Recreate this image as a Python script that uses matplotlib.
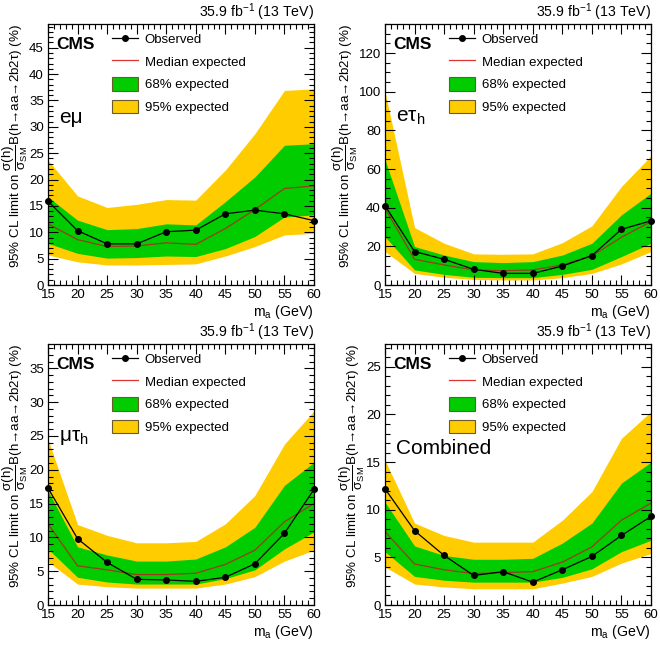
import numpy as np
import matplotlib
matplotlib.use('Agg')
import matplotlib.pyplot as plt
from matplotlib.lines import Line2D
from matplotlib.patches import Patch
from matplotlib.ticker import MultipleLocator

plt.rcParams['font.family'] = ['Liberation Sans', 'DejaVu Sans']
plt.rcParams['mathtext.fontset'] = 'custom'
plt.rcParams['mathtext.rm'] = 'Liberation Sans'
plt.rcParams['mathtext.it'] = 'Liberation Sans:italic'
plt.rcParams['mathtext.bf'] = 'Liberation Sans:bold'

# masses (GeV)
ma = [15, 20, 25, 30, 35, 40, 45, 50, 55, 60]

# e-mu channel
emu_obs = [15.9, 10.3, 7.8, 7.8, 10.1, 10.4, 13.5, 14.2, 13.5, 12.2]
emu_med = [11.6, 8.6, 7.3, 7.4, 8.0, 7.7, 10.7, 14.3, 18.3, 18.8]
emu_lo68 = [7.9, 6.0, 5.1, 5.2, 5.5, 5.4, 6.9, 9.2, 12.9, 13.3]
emu_hi68 = [16.7, 12.3, 10.5, 10.7, 11.6, 11.4, 15.8, 20.5, 26.5, 26.8]
emu_lo95 = [5.7, 4.4, 3.8, 3.8, 3.9, 4.0, 5.5, 7.3, 9.5, 9.8]
emu_hi95 = [23.7, 16.9, 14.7, 15.3, 16.2, 16.1, 21.8, 28.7, 36.9, 37.2]

# e-tau_h channel
eth_obs = [41.0, 17.3, 13.3, 8.1, 6.0, 6.0, 9.8, 15.2, 28.8, 33.2]
eth_med = [39.7, 13.3, 10.4, 7.8, 7.4, 7.8, 10.4, 15.0, 24.7, 32.8]
eth_lo68 = [25.0, 7.8, 5.5, 4.0, 3.8, 3.8, 5.5, 8.1, 14.7, 21.6]
eth_hi68 = [64.8, 19.9, 15.5, 12.1, 11.6, 12.1, 15.5, 21.6, 36.3, 47.5]
eth_lo95 = [17.3, 6.0, 4.0, 2.9, 2.6, 2.6, 3.8, 6.0, 10.9, 17.3]
eth_hi95 = [100.0, 29.7, 21.6, 16.1, 15.9, 16.1, 21.9, 30.6, 51.0, 66.8]

# mu-tau_h channel
mth_obs = [17.3, 9.8, 6.3, 3.8, 3.7, 3.5, 4.1, 6.1, 10.6, 17.1]
mth_med = [12.0, 5.8, 5.2, 4.5, 4.5, 4.7, 6.0, 8.1, 12.3, 15.0]
mth_lo68 = [8.3, 4.1, 3.4, 3.1, 3.1, 3.1, 3.9, 5.2, 8.3, 10.8]
mth_hi68 = [16.9, 8.6, 7.4, 6.5, 6.5, 6.8, 8.6, 11.5, 17.7, 21.1]
mth_lo95 = [6.4, 3.1, 2.7, 2.5, 2.5, 2.5, 3.1, 4.2, 6.5, 8.1]
mth_hi95 = [24.5, 11.9, 10.3, 9.2, 9.2, 9.4, 12.0, 16.2, 23.8, 28.7]

# combined
cmb_obs = [12.2, 7.8, 5.2, 3.1, 3.5, 2.4, 3.7, 5.1, 7.3, 9.3]
cmb_med = [7.7, 4.3, 3.7, 3.3, 3.4, 3.5, 4.5, 6.1, 8.9, 10.7]
cmb_lo68 = [5.6, 3.0, 2.6, 2.4, 2.4, 2.4, 2.9, 3.8, 5.6, 6.8]
cmb_hi68 = [10.8, 6.2, 5.2, 4.8, 4.8, 4.9, 6.5, 8.6, 12.8, 15.0]
cmb_lo95 = [4.0, 2.2, 1.9, 1.7, 1.7, 1.7, 2.3, 3.0, 4.4, 5.4]
cmb_hi95 = [15.2, 8.6, 7.3, 6.6, 6.6, 6.6, 8.9, 11.9, 17.5, 20.3]

channels = [
    ('eμ', emu_obs, emu_med, emu_lo68, emu_hi68, emu_lo95, emu_hi95, 49.5, 5, 1, 0.64),
    (r'e$\mathrm{\tau}_{\mathrm{h}}$', eth_obs, eth_med, eth_lo68, eth_hi68, eth_lo95, eth_hi95, 135, 20, 5, 0.64),
    (r'$\mathrm{\mu\tau}_{\mathrm{h}}$', mth_obs, mth_med, mth_lo68, mth_hi68, mth_lo95, mth_hi95, 38.6, 5, 1, 0.64),
    ('Combined', cmb_obs, cmb_med, cmb_lo68, cmb_hi68, cmb_lo95, cmb_hi95, 27.4, 5, 1, 0.60),
]

green = '#00cc00'
yellow = '#ffcc00'

fig = plt.figure(figsize=(6.6, 6.46), dpi=100)
W, H = 660, 646
ax_pos = [(48, 24), (385, 24), (48, 344), (385, 344)]
aw, ah = 266, 261

ylab = r'95% CL limit on $\dfrac{\mathrm{\sigma(h)}}{\mathrm{\sigma_{SM}}}$B(h→aa→2b2τ) (%)'

for (x0, y0), (name, obs, med, lo68, hi68, lo95, hi95, ymax, ymaj, ymin, ny) in zip(ax_pos, channels):
    ax = fig.add_axes([x0 / W, 1 - (y0 + ah) / H, aw / W, ah / H])
    ax.fill_between(ma, lo95, hi95, color=yellow, lw=0)
    ax.fill_between(ma, lo68, hi68, color=green, lw=0)
    ax.plot(ma, med, color='#9a3c1c', lw=0.9)
    ax.plot(ma, obs, color='black', lw=0.9, marker='o', ms=4, clip_on=False, zorder=5)

    ax.set_xlim(15, 60)
    ax.set_ylim(0, ymax)
    ax.xaxis.set_major_locator(MultipleLocator(5))
    ax.xaxis.set_minor_locator(MultipleLocator(1))
    ax.yaxis.set_major_locator(MultipleLocator(ymaj))
    ax.yaxis.set_minor_locator(MultipleLocator(ymin))
    ax.tick_params(which='both', direction='in', top=True, right=True, labelsize=9.5)
    ax.tick_params(which='major', length=7, width=0.8, pad=3)
    ax.tick_params(which='minor', length=3.5, width=0.8)
    ax.set_axisbelow(False)
    for s in ax.spines.values():
        s.set_linewidth(0.9)

    ax.set_xlabel(r'm$_{\mathrm{a}}$ (GeV)', fontsize=10.2, loc='right', labelpad=1)
    ax.set_ylabel(ylab, fontsize=9.6, loc='top', labelpad=-1)

    ax.text(1.0, 1.004, r'35.9 fb$^{-1}$ (13 TeV)', transform=ax.transAxes,
            ha='right', va='bottom', fontsize=10.2)
    ax.text(0.03, 0.92, 'CMS', transform=ax.transAxes, ha='left', va='center',
            fontsize=12.5, fontweight='bold')
    ax.text(0.04, ny, name, transform=ax.transAxes, ha='left', va='center',
            fontsize=15)

    handles = [
        Line2D([], [], color='black', lw=0.9, marker='o', ms=4),
        Line2D([], [], color='#e03030', lw=0.9),
        Patch(facecolor=green, edgecolor='#6b5a2a', lw=0.8),
        Patch(facecolor=yellow, edgecolor='#6b5a2a', lw=0.8),
    ]
    labels = ['Observed', 'Median expected', '68% expected', '95% expected']
    ax.legend(handles, labels, loc='upper left', bbox_to_anchor=(0.21, 1.0),
              frameon=False, fontsize=9.5, handlelength=2.0, handleheight=1.19,
              labelspacing=0.64, handletextpad=0.5, borderaxespad=0.2)

fig.savefig('out.png', dpi=100)
